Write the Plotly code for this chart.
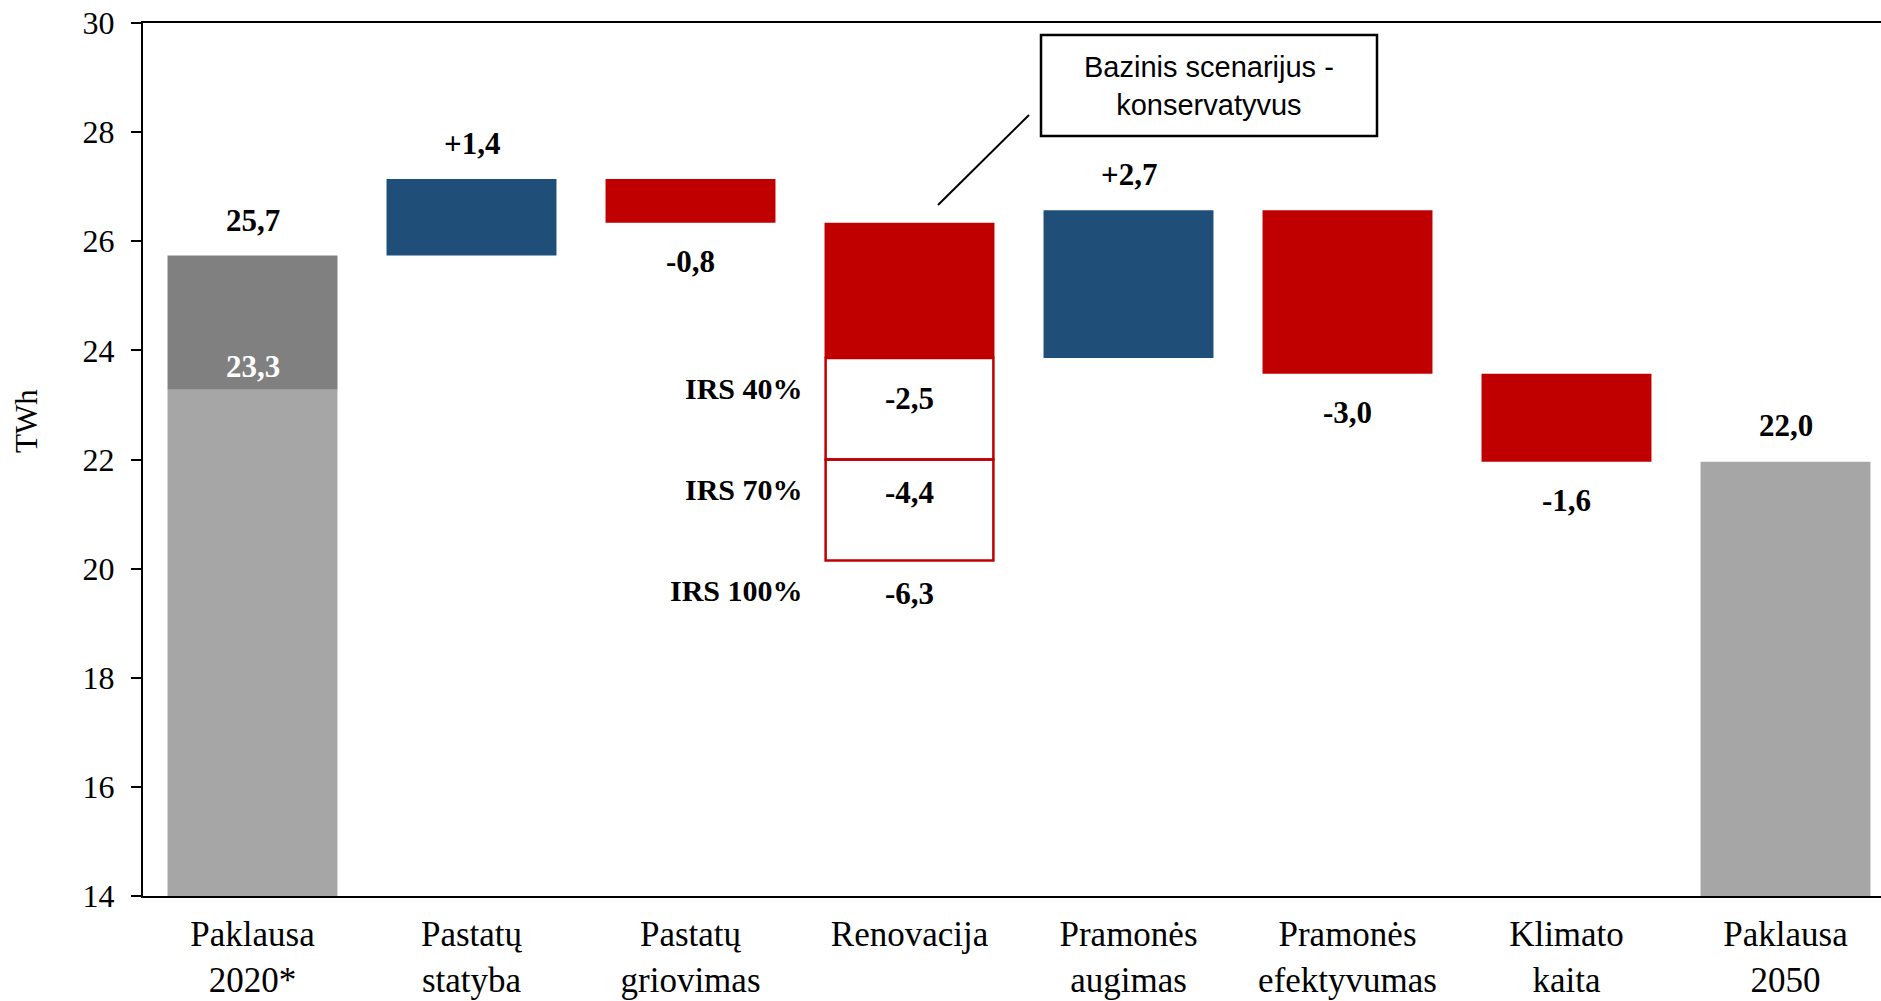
import plotly.graph_objects as go

# ---------------- data ----------------
categories = ["Paklausa<br>2020*", "Pastatų<br>statyba", "Pastatų<br>griovimas", "Renovacija",
              "Pramonės<br>augimas", "Pramonės<br>efektyvumas", "Klimato<br>kaita", "Paklausa<br>2050"]
demand_2020_total = 25.74
demand_2020_base = 23.28
changes = [1.40, -0.80, -2.48, 2.71, -3.00, -1.61]       # categories 1..6
change_labels = ["+1,4", "-0,8", "-2,5", "+2,7", "-3,0", "-1,6"]
total_labels = ["25,7", "22,0"]
base_label = "23,3"
renovation_scenarios = [-2.48, -4.34, -6.19]             # relative to level before renovation
scenario_names = ["IRS 40%", "IRS 70%", "IRS 100%"]
scenario_labels = ["-2,5", "-4,4", "-6,3"]
y_ticks = [14, 16, 18, 20, 22, 24, 26, 28, 30]
callout_text = "Bazinis scenarijus -<br>konservatyvus"

BLUE = "#1F4E79"
RED = "#C00000"
GRAY_L = "#A6A6A6"
GRAY_D = "#808080"
SERIF = "Liberation Serif, Times New Roman, serif"
SANS = "Liberation Sans, Arial, sans-serif"
BW = 0.776

fig = go.Figure()

# 2020 demand (two parts)
fig.add_trace(go.Bar(x=[0], y=[demand_2020_base], base=[0], width=BW,
                     marker=dict(color=GRAY_L, line=dict(width=0)), showlegend=False))
fig.add_trace(go.Bar(x=[0], y=[demand_2020_total - demand_2020_base], base=[demand_2020_base], width=BW,
                     marker=dict(color=GRAY_D, line=dict(width=0)), showlegend=False))

# floating change bars
levels = [demand_2020_total]
for d in changes:
    levels.append(levels[-1] + d)
fx, fy, fb, fc = [], [], [], []
for i, d in enumerate(changes):
    fx.append(i + 1)
    fy.append(abs(d))
    fb.append(min(levels[i], levels[i + 1]))
    fc.append(BLUE if d > 0 else RED)
fig.add_trace(go.Bar(x=fx, y=fy, base=fb, width=BW,
                     marker=dict(color=fc, line=dict(width=0)), showlegend=False))

# renovation scenario outline boxes
ren_idx = 3
ren_start = levels[ren_idx - 1]
ends = [ren_start + s for s in renovation_scenarios]
ox, oy, ob = [], [], []
for k in range(1, len(ends)):
    ox.append(ren_idx)
    oy.append(ends[k - 1] - ends[k])
    ob.append(ends[k])
fig.add_trace(go.Bar(x=ox, y=oy, base=ob, width=BW - 0.01,
                     marker=dict(color="rgba(255,255,255,0)", line=dict(color=RED, width=2.5)),
                     showlegend=False))

# 2050 demand
demand_2050 = levels[-1]
fig.add_trace(go.Bar(x=[7], y=[demand_2050], base=[0], width=BW,
                     marker=dict(color=GRAY_L, line=dict(width=0)), showlegend=False))

ann = []


def add_label(x, y, text, yshift, color="black", xshift=0, xanchor="center", size=31):
    ann.append(dict(x=x, y=y, xref="x", yref="y", text="<b>%s</b>" % text, showarrow=False,
                    xanchor=xanchor, yanchor="middle", yshift=yshift, xshift=xshift,
                    font=dict(family=SERIF, size=size, color=color)))


add_label(0, demand_2020_total, total_labels[0], 35)
add_label(0, demand_2020_base, base_label, 23, color="white")
add_label(7, demand_2050, total_labels[1], 36)
for i, d in enumerate(changes):
    if i + 1 == ren_idx:
        continue
    if d > 0:
        add_label(i + 1, levels[i + 1], change_labels[i], 36)
    else:
        add_label(i + 1, levels[i + 1], change_labels[i], -39)
# renovation scenario labels
shifts = [-40, -33, -33]
for k, e in enumerate(ends):
    add_label(ren_idx, e, scenario_labels[k], shifts[k])
    add_label(ren_idx, e, scenario_names[k], -30, xanchor="right", xshift=-105, size=30)

PW, PH, L0, T0 = 1738.0, 873.0, 143.0, 23.0


def px(xp):
    return (xp - L0) / PW


def py(yp):
    return (T0 + PH - yp) / PH


# y axis title
ann.append(dict(x=px(26), y=py(421), xref="paper", yref="paper", text="TWh", showarrow=False,
                textangle=-90, xanchor="center", yanchor="middle",
                font=dict(family=SERIF, size=31, color="black")))

# callout text
ann.append(dict(x=px(1209), y=py(86), xref="paper", yref="paper",
                text=callout_text, showarrow=False, xanchor="center", yanchor="middle",
                font=dict(family=SANS, size=29, color="black")))

shapes = [
    # callout box
    dict(type="rect", xref="paper", yref="paper",
         x0=px(1041), x1=px(1377), y0=py(136), y1=py(35),
         line=dict(color="black", width=2.5), fillcolor="white"),
    # leader line
    dict(type="line", xref="paper", yref="paper",
         x0=px(938), y0=py(205), x1=px(1029), y1=py(115),
         line=dict(color="black", width=2)),
]

fig.update_layout(
    width=1881, height=1001,
    margin=dict(l=143, r=0, t=23, b=105, autoexpand=False),
    paper_bgcolor="white", plot_bgcolor="white",
    barmode="overlay",
    annotations=ann, shapes=shapes,
    xaxis=dict(range=[-0.5, -0.5 + PW / 219.0], tickmode="array",
               tickvals=list(range(len(categories))), ticktext=categories,
               showline=True, linecolor="black", linewidth=2, mirror=True,
               ticks="", showgrid=False, zeroline=False, ticklabelstandoff=6,
               automargin=False,
               tickfont=dict(family=SERIF, size=35, color="black")),
    yaxis=dict(range=[14, 30], tickmode="array", tickvals=y_ticks,
               ticktext=[str(t) for t in y_ticks],
               showline=True, linecolor="black", linewidth=2, mirror=False,
               ticks="outside", ticklen=10, tickwidth=2, tickcolor="black",
               showgrid=False, zeroline=False, ticklabelstandoff=10,
               automargin=False,
               tickfont=dict(family=SERIF, size=32, color="black")),
    showlegend=False,
)

fig.write_html("out.html", config={"displayModeBar": False},
               post_script="document.body.style.margin='0';document.body.style.overflow='hidden';")
